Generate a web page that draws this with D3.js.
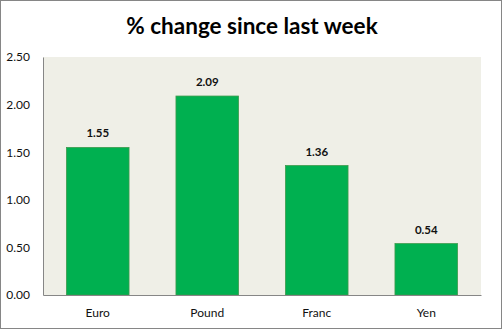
<!DOCTYPE html>
<html>
<head>
<meta charset="utf-8">
<script src="https://cdn.jsdelivr.net/npm/d3@7"></script>
<style>
  html, body { margin: 0; padding: 0; background: #fff; }
  svg { display: block; font-family: Lato, "Open Sans", sans-serif; }
</style>
</head>
<body>
<script>
// Weekly currency moves
const categories = ["Euro", "Pound", "Franc", "Yen"];
const changes = [1.55, 2.09, 1.36, 0.54];
const yTicks = [0, 0.5, 1.0, 1.5, 2.0, 2.5];
const title = "% change since last week";

const W = 502, H = 329;
const plot = { left: 43, right: 481, top: 57, bottom: 295 };

const svg = d3.select("body").append("svg")
  .attr("width", W).attr("height", H);

// chart frame
svg.append("rect")
  .attr("x", 0.5).attr("y", 0.5)
  .attr("width", W - 1).attr("height", H - 1)
  .attr("fill", "#fff").attr("stroke", "#868686");

// plot area background
svg.append("rect")
  .attr("x", plot.left).attr("y", plot.top)
  .attr("width", plot.right - plot.left).attr("height", plot.bottom - plot.top)
  .attr("fill", "#EFEFE7");

const x = d3.scaleBand()
  .domain(categories)
  .range([plot.left, plot.right])
  .paddingInner(0.75 / 1.75)
  .paddingOuter(0.75 / 1.75 / 2);

const y = d3.scaleLinear()
  .domain([0, 2.5])
  .range([plot.bottom, plot.top]);

// title
svg.append("text")
  .attr("x", W / 2 + 1).attr("y", 34)
  .attr("text-anchor", "middle")
  .attr("font-size", 22.5).attr("font-weight", "bold")
  .attr("fill", "#000")
  .text(title);

// bars
svg.selectAll("rect.bar")
  .data(categories)
  .join("rect")
  .attr("class", "bar")
  .attr("x", d => x(d))
  .attr("y", (d, i) => y(changes[i]))
  .attr("width", x.bandwidth())
  .attr("height", (d, i) => y(0) - y(changes[i]))
  .attr("fill", "#00B050")
  .attr("stroke", "#3E9B4E")
  .attr("stroke-width", 0.8);

// value labels
svg.selectAll("text.val")
  .data(categories)
  .join("text")
  .attr("class", "val")
  .attr("x", d => x(d) + x.bandwidth() / 2)
  .attr("y", (d, i) => y(changes[i]) - 10)
  .attr("text-anchor", "middle")
  .attr("font-size", 11.5).attr("font-weight", "bold")
  .attr("fill", "#111")
  .text((d, i) => changes[i].toFixed(2));

// y axis
const yAxis = d3.axisLeft(y)
  .tickValues(yTicks)
  .tickFormat(d3.format(".2f"))
  .tickSize(0)
  .tickPadding(13);

const gy = svg.append("g")
  .attr("transform", `translate(${plot.left},0)`)
  .call(yAxis);
gy.select(".domain").attr("stroke", "#868686");
gy.selectAll("text").attr("font-size", 12).attr("fill", "#111")
  .attr("font-family", "Lato, 'Open Sans', sans-serif");

// x axis
const xAxis = d3.axisBottom(x).tickSize(0).tickPadding(13);
const gx = svg.append("g")
  .attr("transform", `translate(0,${plot.bottom})`)
  .call(xAxis);
gx.select(".domain").attr("stroke", "#868686");
gx.selectAll("text").attr("font-size", 12).attr("fill", "#111")
  .attr("font-family", "Lato, 'Open Sans', sans-serif");
</script>
</body>
</html>
